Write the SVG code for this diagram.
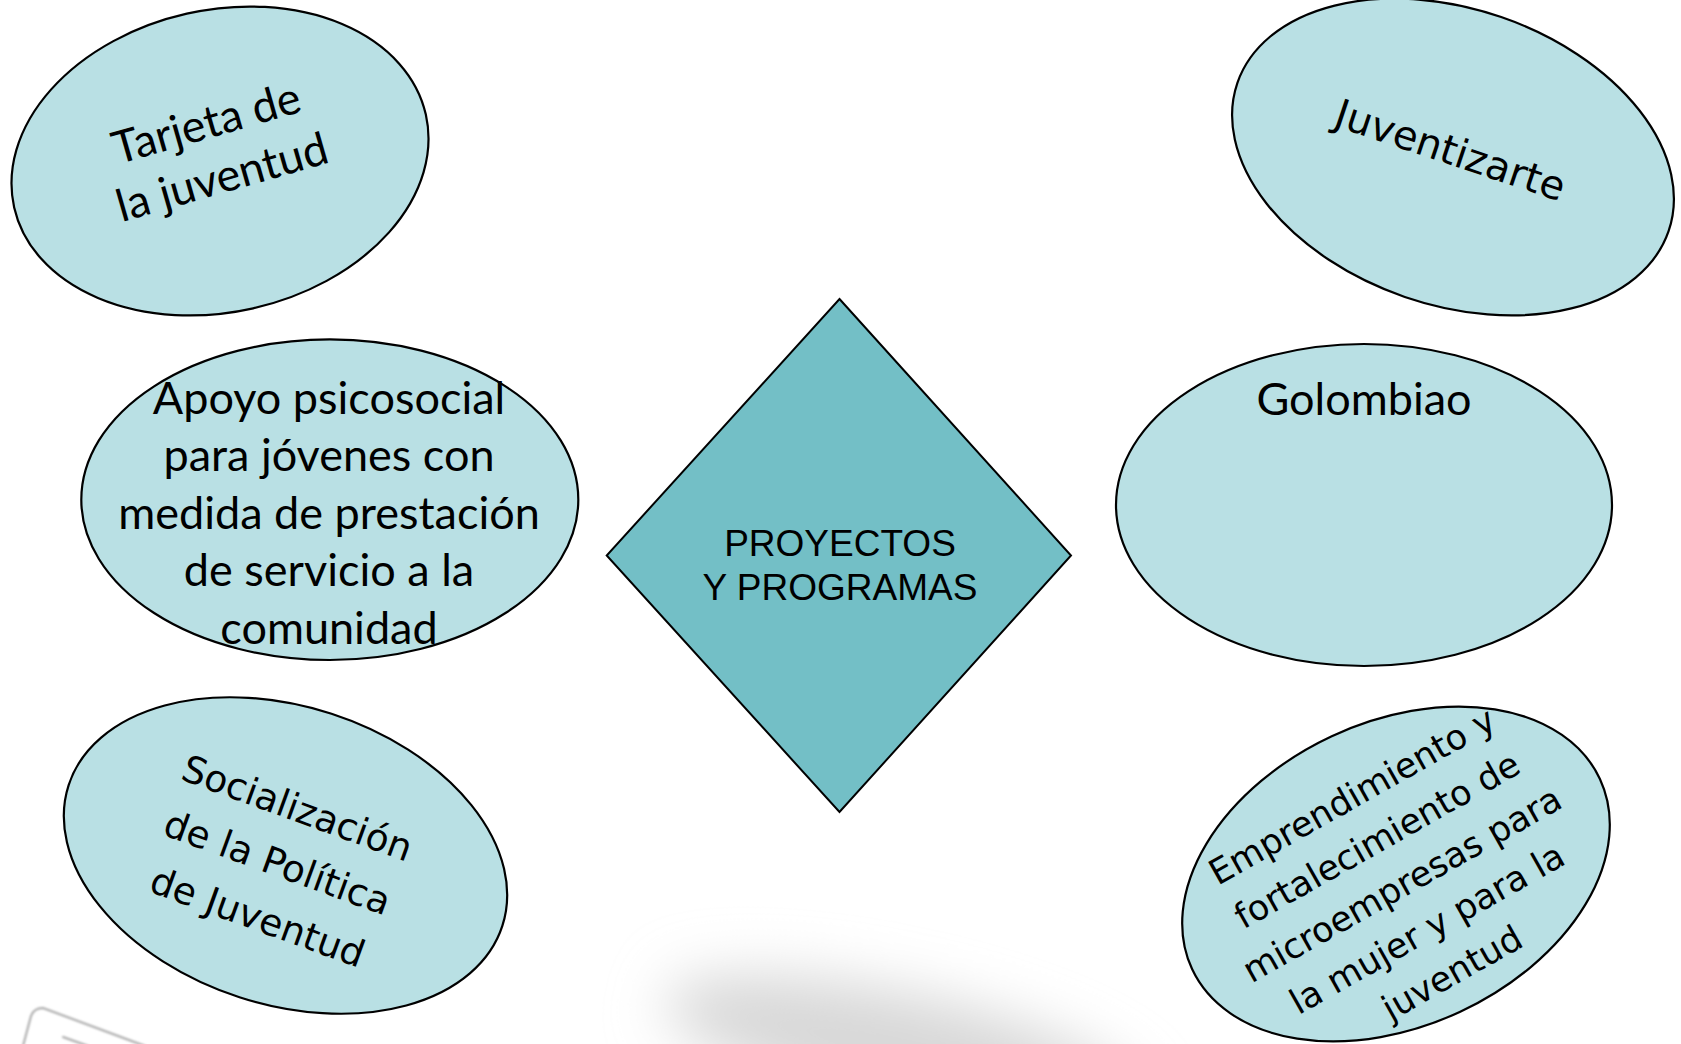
<svg xmlns="http://www.w3.org/2000/svg" width="1681" height="1044" viewBox="0 0 1681 1044">
<defs>
<style>
.bubble{fill:#B9E0E4;stroke:#000;stroke-width:2.2}
.core{fill:#73BFC6;stroke:#000;stroke-width:2}
.cal{font-family:Lato,"Liberation Sans",sans-serif;font-size:45px;fill:#000;text-anchor:middle}
.dv{font-family:"DejaVu Sans",sans-serif;fill:#000;text-anchor:middle}
.ar{font-family:"Liberation Sans",Arial,sans-serif;font-size:37px;fill:#000;text-anchor:middle}
.ghost{fill:none;stroke:#a8a8a8;stroke-width:2;stroke-linecap:round}
</style>
<filter id="blur" x="-50%" y="-100%" width="200%" height="300%"><feGaussianBlur stdDeviation="28"/></filter>
<filter id="soft" x="-20%" y="-20%" width="140%" height="140%"><feGaussianBlur stdDeviation="0.8"/></filter>
</defs>
<rect width="1681" height="1044" fill="#fff"/>
<g id="background">
<ellipse cx="900" cy="1050" rx="240" ry="58" transform="rotate(12 900 1050)" fill="#d8d8d8" filter="url(#blur)"/>
<g filter="url(#soft)">
<path class="ghost" d="M23,1046 L31,1016 Q34,1008 43,1008 L145,1046"/>
<path class="ghost" d="M63,1037 L88,1046"/>
</g>
</g>
<g id="connectors"></g>
<g id="tarjeta">
<ellipse class="bubble" cx="220" cy="161" rx="211" ry="151" transform="rotate(-12.7 220 161)"/>
<g transform="translate(218.4 165) rotate(-16)">
<text class="cal" x="0" y="-28.3">Tarjeta de</text>
<text class="cal" x="0" y="28.3">la juventud</text>
</g>
</g>
<g id="juventizarte">
<ellipse class="bubble" cx="1453" cy="157" rx="228" ry="148" transform="rotate(19 1453 157)"/>
<text class="dv" font-size="40" transform="translate(1446 163.4) rotate(18.5)">Juventizarte</text>
</g>
<g id="apoyo">
<ellipse class="bubble" cx="329.8" cy="499.7" rx="248.5" ry="160.3"/>
<text class="cal" x="329" y="414">Apoyo psicosocial</text>
<text class="cal" x="329" y="471.4">para jóvenes con</text>
<text class="cal" x="329" y="528.8">medida de prestación</text>
<text class="cal" x="329" y="586.2">de servicio a la</text>
<text class="cal" x="329" y="643.6">comunidad</text>
</g>
<g id="golombiao">
<ellipse class="bubble" cx="1364" cy="505" rx="248" ry="161"/>
<text class="cal" x="1364" y="415">Golombiao</text>
</g>
<g id="centro">
<polygon class="core" points="839.5,299 1071,555.5 839.5,812 606.7,555.5"/>
<text class="ar" x="840" y="555.5">PROYECTOS</text>
<text class="ar" x="840" y="600">Y PROGRAMAS</text>
</g>
<g id="socializacion">
<ellipse class="bubble" cx="285.5" cy="855.5" rx="228" ry="149" transform="rotate(18 285.5 855.5)"/>
<g transform="translate(273 875) rotate(20)">
<text class="dv" font-size="37.5" x="0" y="-58">Socialización</text>
<text class="dv" font-size="37.5" x="0" y="0">de la Política</text>
<text class="dv" font-size="37.5" x="0" y="58">de Juventud</text>
</g>
</g>
<g id="emprendimiento">
<ellipse class="bubble" cx="1396" cy="874" rx="225" ry="152" transform="rotate(-25 1396 874)"/>
<g transform="translate(1408 895) rotate(-29.5)">
<text class="dv" font-size="35" x="0" y="-101.6">Emprendimiento y</text>
<text class="dv" font-size="35" x="0" y="-50.8">fortalecimiento de</text>
<text class="dv" font-size="35" x="0" y="0">microempresas para</text>
<text class="dv" font-size="35" x="0" y="50.8">la mujer y para la</text>
<text class="dv" font-size="35" x="0" y="101.6">juventud</text>
</g>
</g>
</svg>
